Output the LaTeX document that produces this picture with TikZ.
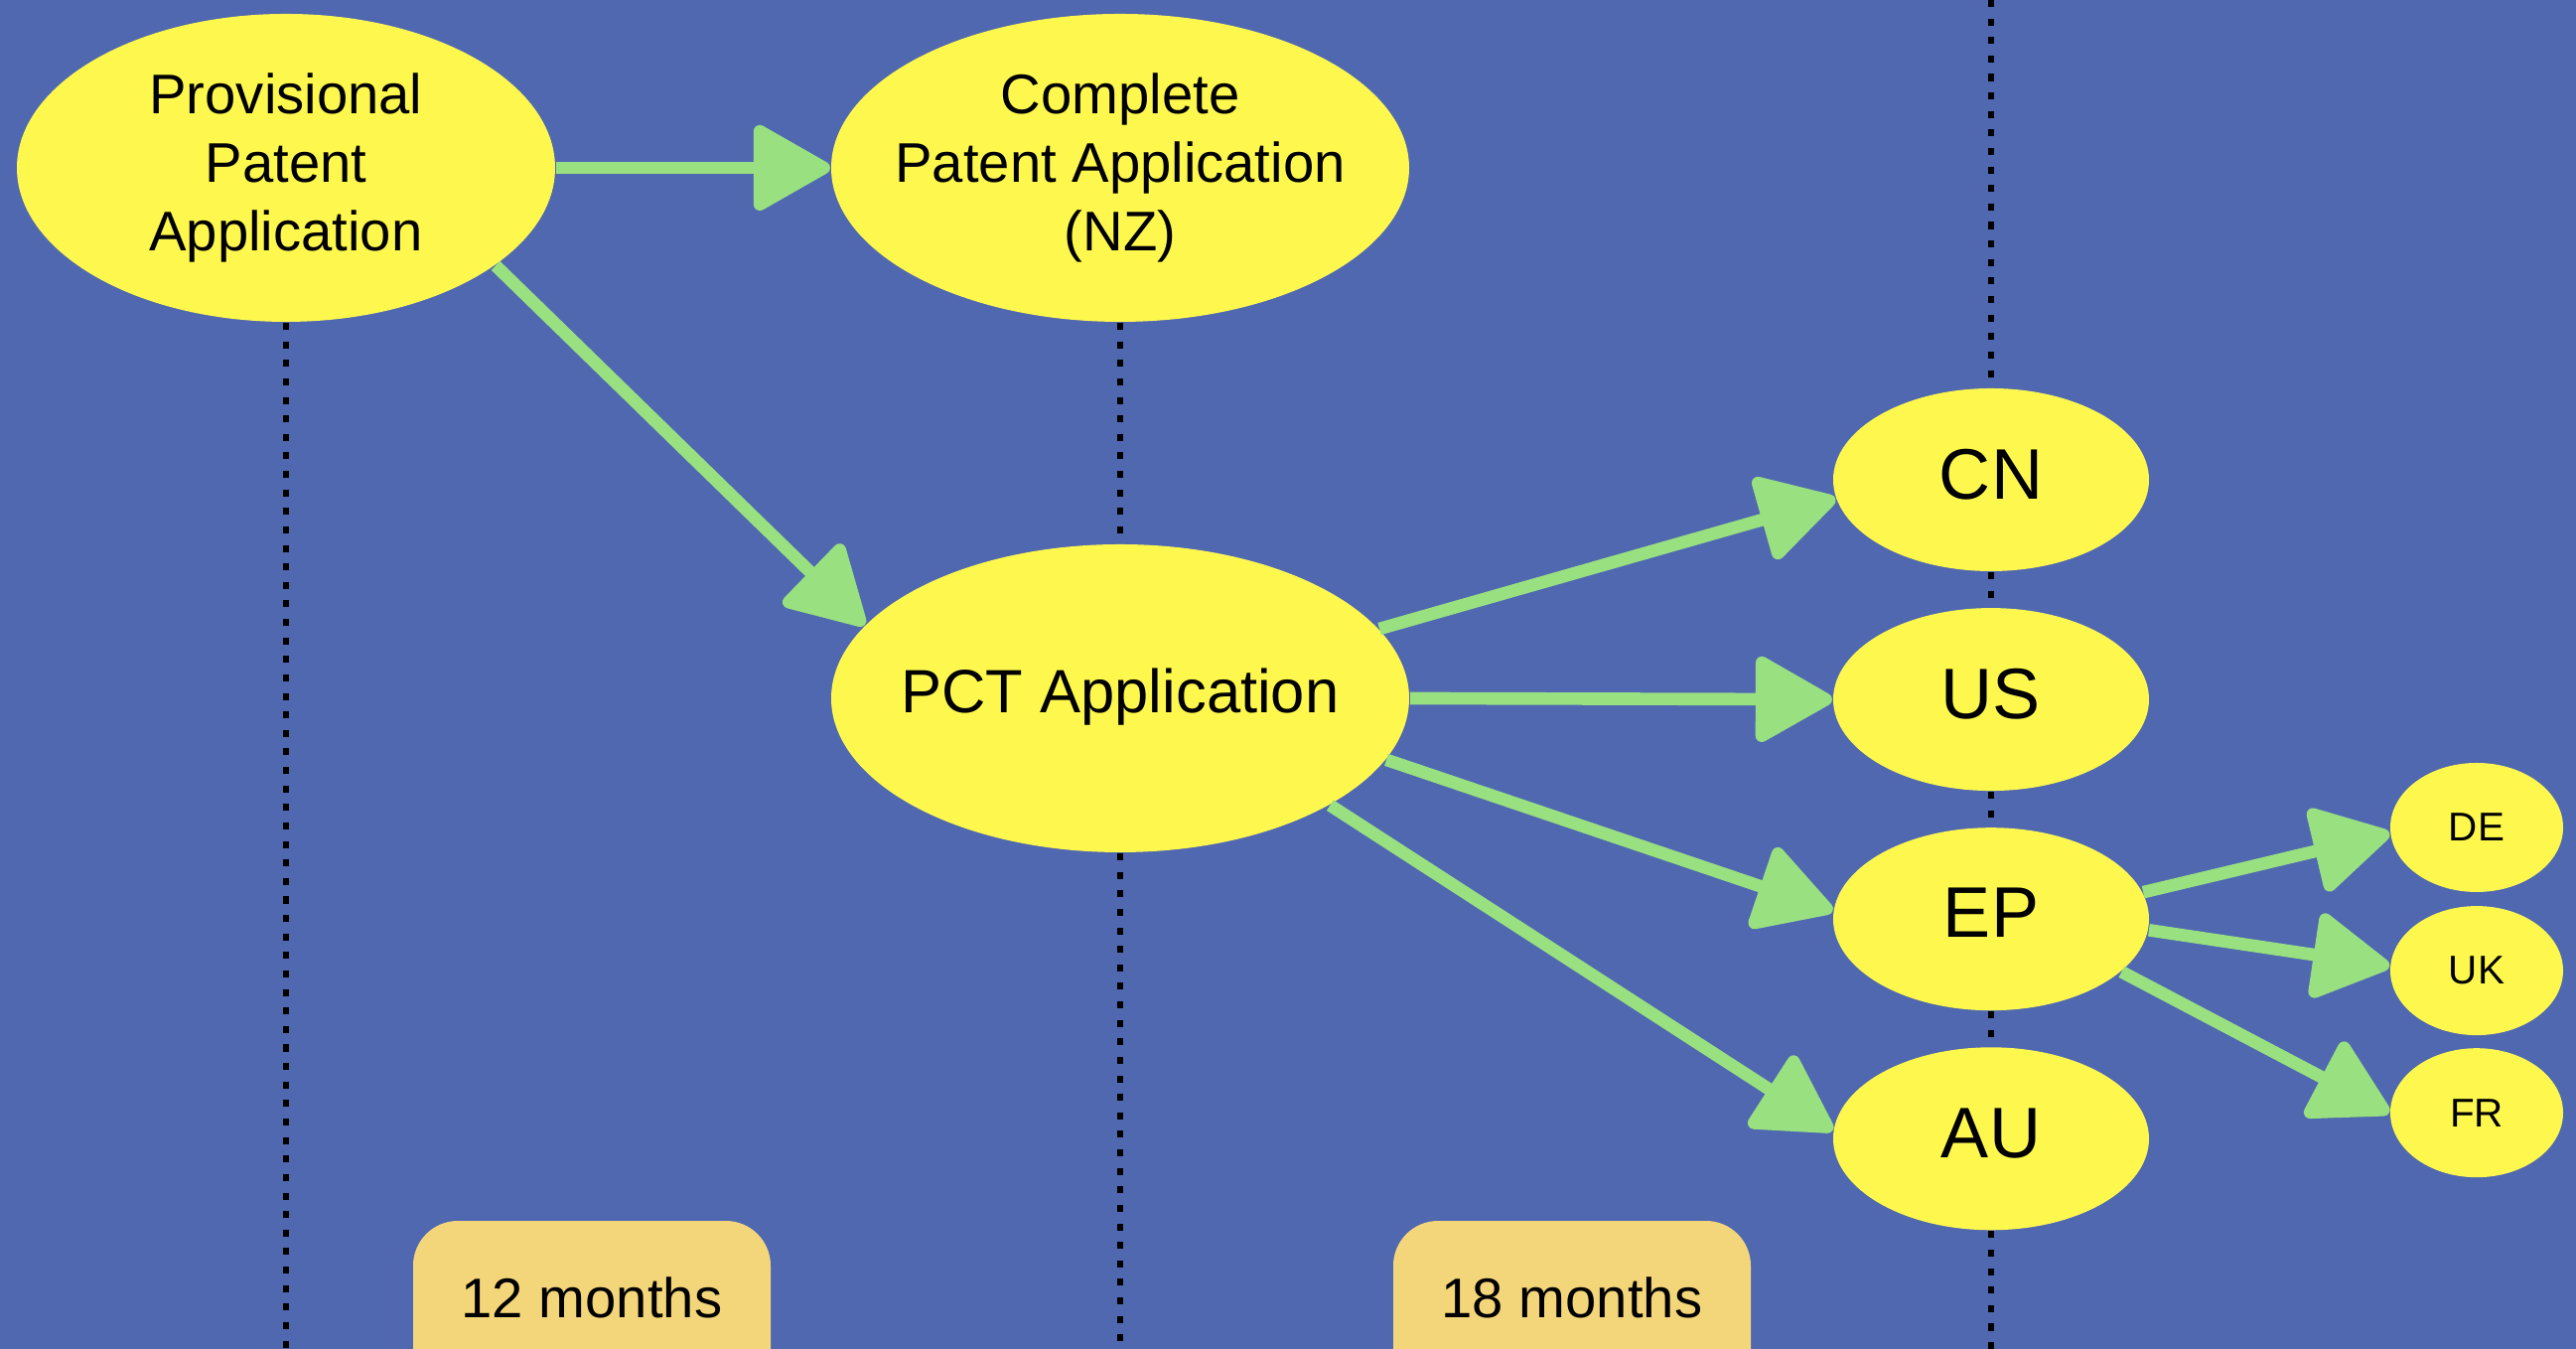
\documentclass[tikz,border=0pt]{standalone}
\usepackage{fontspec}
\setmainfont{Liberation Sans}
\usetikzlibrary{shapes, arrows.meta, positioning}
\definecolor{bgblue}{RGB}{80,104,176}
\definecolor{nodeyellow}{RGB}{254,248,78}
\definecolor{arrowgreen}{RGB}{152,224,128}
\definecolor{boxgold}{RGB}{244,214,122}

\begin{document}
\begin{tikzpicture}[semithick, > = {Triangle[length=8.4mm, width=9.2mm, round]},
    app/.style = {ellipse, fill=nodeyellow, inner xsep=-0.3cm, inner ysep=0pt, align=center, font=\fontsize{16}{19.5}\selectfont},
    country/.style = {ellipse, fill=nodeyellow, inner sep=0pt, minimum width=3.18cm, minimum height=1.84cm, text depth=0.12cm, font=\fontsize{20.5}{24}\selectfont},
    member/.style = {ellipse, fill=nodeyellow, inner sep=0pt, minimum width=1.74cm, minimum height=1.30cm, font=\fontsize{11.5}{14}\selectfont},
    flow/.style = {->, arrowgreen, line width=3.6pt},
    timeline/.style = {black, line width=1.6pt, dash pattern=on 2pt off 3.3pt},
    monthbox/.style = {fill=boxgold, rounded corners=0.45cm, minimum width=3.6cm, minimum height=1.8cm, anchor=north, text depth=0.26cm, font=\fontsize{16}{19}\selectfont},
]
    \fill[bgblue] (0,0) rectangle (25.94,13.58);
    \useasboundingbox (0,0) rectangle (25.94,13.58);
    \coordinate (top) at (0,13.58);
    \coordinate (bottom) at (0,0);

    % applications
    \node[app, minimum width=5.42cm, minimum height=3.10cm] (prov) at (2.88,11.89) {Provisional\\Patent\\Application};
    \node[app, minimum width=5.82cm, minimum height=3.10cm] (cpl) at (11.28,11.89) {Complete\\Patent Application\\(NZ)};
    \node[app, minimum width=5.82cm, minimum height=3.10cm, text depth=0.15cm, font=\fontsize{17.5}{21}\selectfont] (pct) at (11.28,6.55) {PCT Application};

    % national phase
    \node[country] (cn) at (20.05,8.75) {CN};
    \node[country, below=0.35cm of cn] (us) {US};
    \node[country, below=0.35cm of us] (ep) {EP};
    \node[country, below=0.35cm of ep] (au) {AU};
    \node[member] (de) at (24.94,5.25) {DE};
    \node[member, below=0.12cm of de] (uk) {UK};
    \node[member, below=0.11cm of uk] (fr) {FR};

    % time marks
    \node[monthbox] (m12) at (5.96,1.30) {12 months};
    \node[monthbox] (m18) at (15.83,1.30) {18 months};

    \draw[timeline] (prov.south) -- (prov.south |- bottom);
    \draw[timeline] (cpl.south) -- (pct.north);
    \draw[timeline] (pct.south) -- (pct.south |- bottom);
    \draw[timeline] (cn.north |- top) -- (cn.north);
    \foreach \a/\b in {cn/us, us/ep, ep/au}
        \draw[timeline] (\a.south) -- (\b.north);
    \draw[timeline] (au.south) -- (au.south |- bottom);

    \draw[flow] (prov.east) -- (cpl.west);
    \draw[flow] (prov.-25) -- (pct.164);
    \draw[flow] (pct.15) -- (cn.187);
    \draw[flow] (pct.east) -- (us.west);
    \draw[flow] (pct.-13) -- (ep.177);
    \draw[flow] (pct.-27) -- (au.177);
    \draw[flow] (ep.10) -- (de.184);
    \draw[flow] (ep.-4) -- (uk.177);
    \draw[flow] (ep.-22) -- (fr.180);
\end{tikzpicture}
\end{document}
